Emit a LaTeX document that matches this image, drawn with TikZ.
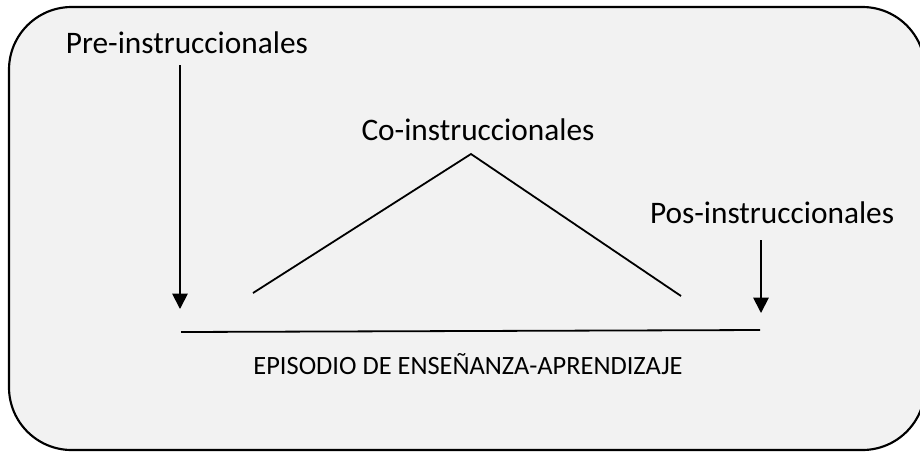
\documentclass[tikz,border=0pt]{standalone}
\usepackage{fontspec}
\setmainfont{Carlito}
\usetikzlibrary{arrows.meta}

\tikzset{every picture/.style={line width=1.35pt}}
\tikzset{
  etapa/.style={inner sep=0pt, font=\fontsize{23.5}{28}\selectfont},
  flecha/.style={-{Triangle[width=11.5pt,length=11.5pt]}},
}

\begin{document}
\begin{tikzpicture}[x=0.75pt,y=0.75pt,yscale=-1,xscale=1]
\useasboundingbox (0,0) rectangle (920,451);

%Rounded Rect
\draw [line width=1.6pt, fill={rgb,255:red,242;green,242;blue,242}, rounded corners=47pt] (9,7) rectangle (925,450);

% Text Node
\node (pre) [etapa, anchor=base west] at (65,53) {Pre-instruccionales};
% Text Node
\node (co) [etapa, anchor=base] at (478,140) {Co-instruccionales};
% Text Node
\node (pos) [etapa, anchor=base east] at (895,223) {Pos-instruccionales};
% Text Node
\node (episodio) [inner sep=0pt, anchor=base, font=\fontsize{19.8}{24}\selectfont] at (468,374) {EPISODIO DE ENSEÑANZA-APRENDIZAJE};

\coordinate (preIni) at (180,65);
\coordinate (preFin) at (180,309);
\coordinate (posIni) at (761,240);
\coordinate (posFin) at (761,313);
\coordinate (pico) at (471,154);
\coordinate (pieIzq) at (253,293);
\coordinate (pieDer) at (681,296);
\coordinate (lineaIzq) at (181,332);
\coordinate (lineaDer) at (760,330);

%Arrows
\draw [flecha] (preIni) -- (preFin);
\draw [flecha] (posIni) -- (posFin);
%Straight Lines
\draw (pieIzq) -- (pico) -- (pieDer);
\draw (lineaIzq) -- (lineaDer);

\end{tikzpicture}
\end{document}
